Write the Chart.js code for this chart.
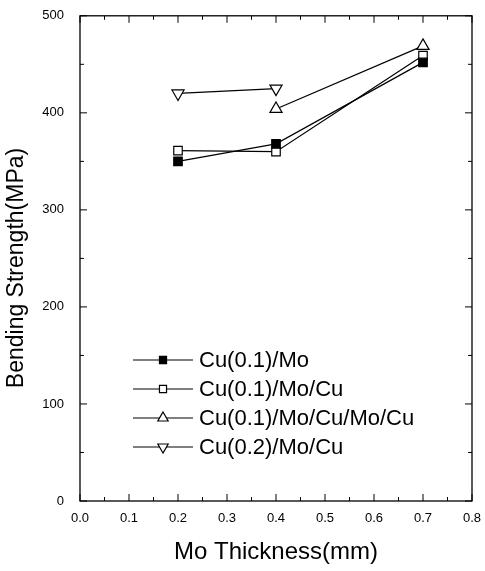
<!DOCTYPE html>
<html><head><meta charset="utf-8">
<script src="https://cdn.jsdelivr.net/npm/chart.js@4"></script>
<style>html,body{margin:0;padding:0;background:#fff}#c{display:block}</style>
</head><body>
<canvas id="c" width="485" height="571"></canvas>
<script>
const thickness = [0.2, 0.4, 0.7];
const cuMo = [350, 368, 452];
const cuMoCu = [361, 360, 459];
const cuMoCuMoCu = [null, 404, 469];
const cu2MoCu = [420, 425, null];
const seriesNames = ['Cu(0.1)/Mo', 'Cu(0.1)/Mo/Cu', 'Cu(0.1)/Mo/Cu/Mo/Cu', 'Cu(0.2)/Mo/Cu'];
const xTicks = [0, 0.1, 0.2, 0.3, 0.4, 0.5, 0.6, 0.7, 0.8];
const yTicks = [0, 100, 200, 300, 400, 500];
const yTitle = 'Bending Strength(MPa)';
const xTitle = 'Mo Thickness(mm)';

const pts = arr => thickness.map((x, i) => ({x, y: arr[i]})).filter(p => p.y !== null);
const font = '"Liberation Sans", Arial, sans-serif';

const mk = (label, arr, style, fill, rot) => ({
  label, data: pts(arr), borderColor: '#000', borderWidth: 1.2,
  pointStyle: style, pointRadius: style === 'triangle' ? 7 : 6, pointRotation: rot || 0,
  pointBackgroundColor: fill, pointBorderColor: '#000', pointBorderWidth: 1.2,
  showLine: true, fill: false, tension: 0
});

const datasets = [
  mk(seriesNames[0], cuMo, 'rect', '#000'),
  mk(seriesNames[1], cuMoCu, 'rect', '#fff'),
  mk(seriesNames[2], cuMoCuMoCu, 'triangle', '#fff'),
  mk(seriesNames[3], cu2MoCu, 'triangle', '#fff', 180)
];

const frame = {
  id: 'frame',
  afterDraw(chart) {
    const {ctx, chartArea: a, scales: {x, y}} = chart;
    ctx.save();
    ctx.strokeStyle = '#000'; ctx.lineWidth = 1.3;
    ctx.strokeRect(a.left, a.top, a.right - a.left, a.bottom - a.top);
    ctx.lineWidth = 1;
    for (let k = 0; k <= 16; k++) {
      const px = x.getPixelForValue(k * 0.05);
      const L = k % 2 === 0 ? 7 : 4;
      ctx.beginPath();
      ctx.moveTo(px, a.bottom); ctx.lineTo(px, a.bottom - L);
      ctx.moveTo(px, a.top); ctx.lineTo(px, a.top + L);
      ctx.stroke();
    }
    for (let v = 0; v <= 500; v += 50) {
      const py = y.getPixelForValue(v);
      const L = v % 100 === 0 ? 7 : 4;
      ctx.beginPath();
      ctx.moveTo(a.left, py); ctx.lineTo(a.left + L, py);
      ctx.moveTo(a.right, py); ctx.lineTo(a.right - L, py);
      ctx.stroke();
    }
    // y title
    ctx.save();
    ctx.translate(17, 268); ctx.rotate(-Math.PI / 2);
    ctx.font = '23px ' + font; ctx.fillStyle = '#000';
    ctx.textAlign = 'center'; ctx.textBaseline = 'middle';
    ctx.fillText(yTitle, 0, 0);
    ctx.restore();
    // legend
    const lx = a.left + 53, ly0 = 360, dy = 29;
    ctx.font = '22px ' + font; ctx.textBaseline = 'middle';
    chart.data.datasets.forEach((ds, i) => {
      const yy = ly0 + i * dy;
      ctx.lineWidth = 1.2; ctx.strokeStyle = '#000';
      ctx.beginPath(); ctx.moveTo(lx, yy); ctx.lineTo(lx + 60, yy); ctx.stroke();
      ctx.fillStyle = ds.pointBackgroundColor;
      const r = ds.pointStyle === 'triangle' ? 6 : 5;
      Chart.helpers.drawPoint(ctx, {pointStyle: ds.pointStyle, radius: r, rotation: ds.pointRotation, borderWidth: 1.2}, lx + 30, yy);
      ctx.fillStyle = '#000';
      ctx.fillText(ds.label, lx + 66, yy + 1);
    });
    ctx.restore();
  }
};

new Chart(document.getElementById('c'), {
  type: 'scatter',
  data: {datasets},
  options: {
    responsive: false, animation: false,
    layout: {padding: {left: 0, right: 13, top: 13, bottom: 0}},
    plugins: {legend: {display: false}, tooltip: {enabled: false}},
    scales: {
      x: {
        type: 'linear', min: 0, max: 0.8,
        afterBuildTicks: s => { s.ticks = xTicks.map(v => ({value: v})); },
        afterFit: s => { s.height = 70; },
        grid: {display: false}, border: {display: false},
        ticks: {color: '#000', font: {family: font, size: 13}, padding: 2, maxRotation: 0,
          callback: v => v.toFixed(1)},
        title: {display: true, text: xTitle, color: '#000', font: {family: font, size: 24}, padding: {top: 21}}
      },
      y: {
        type: 'linear', min: 0, max: 500,
        afterBuildTicks: s => { s.ticks = yTicks.map(v => ({value: v})); },
        afterFit: s => { s.width = 80; },
        grid: {display: false}, border: {display: false},
        ticks: {color: '#000', font: {family: font, size: 13}, padding: 8},
        title: {display: false}
      }
    }
  },
  plugins: [frame]
});
</script>
</body></html>
